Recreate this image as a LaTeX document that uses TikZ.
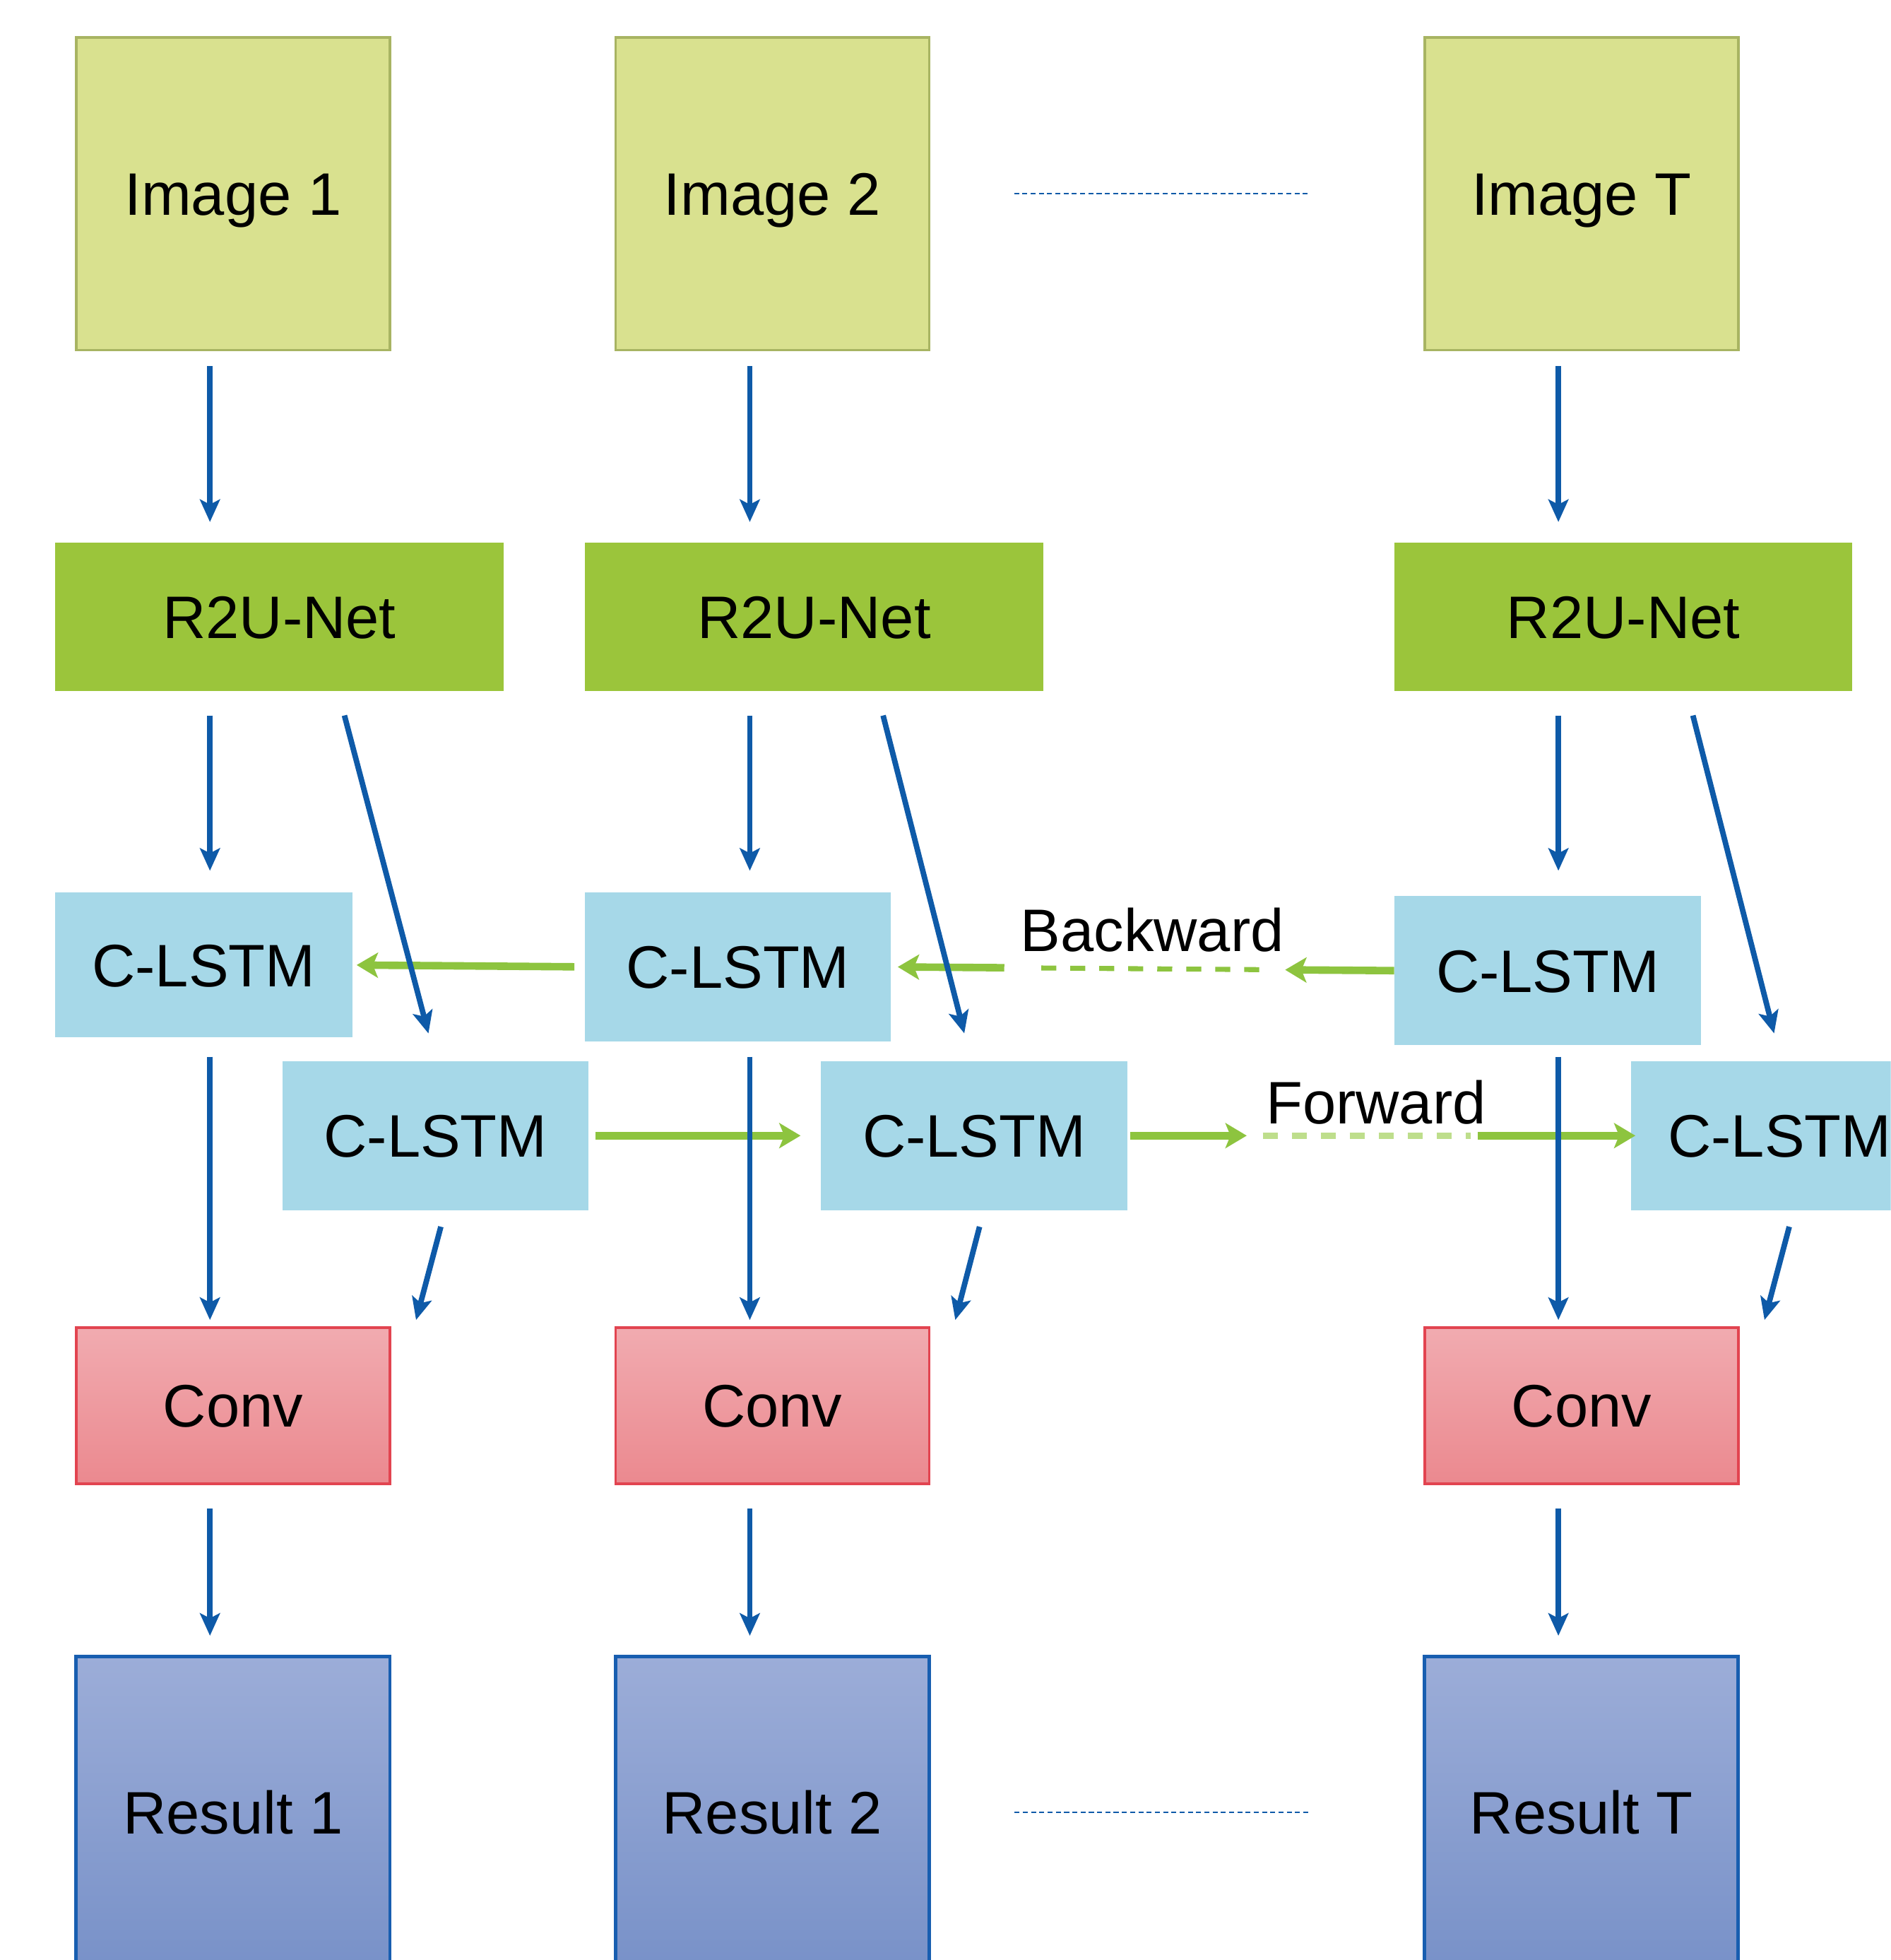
\documentclass[tikz,border=0pt]{standalone}
\usepackage{fontspec}
\setmainfont{Liberation Sans}
\usetikzlibrary{arrows.meta,calc}
\definecolor{imgfill}{RGB}{217,225,143}
\definecolor{imgdraw}{RGB}{168,180,98}
\definecolor{r2ufill}{RGB}{155,197,59}
\definecolor{lstmfill}{RGB}{166,216,232}
\definecolor{convtop}{RGB}{241,171,176}
\definecolor{convbot}{RGB}{235,137,143}
\definecolor{convdraw}{RGB}{226,68,80}
\definecolor{restop}{RGB}{156,173,216}
\definecolor{resbot}{RGB}{120,145,200}
\definecolor{resdraw}{RGB}{24,94,176}
\definecolor{arrblue}{RGB}{14,90,168}
\definecolor{arrgreen}{RGB}{141,196,63}
\definecolor{lightgreen}{RGB}{190,222,140}
\begin{document}
\begin{tikzpicture}[x=0.5pt,y=-0.5pt,
  font=\fontsize{24}{28}\selectfont,
  boxbase/.style={inner sep=0pt, text height=17.2pt, text depth=0pt, anchor=center},
  imgbox/.style={boxbase, draw=imgdraw, line width=1pt, fill=imgfill, minimum width=125.5pt, minimum height=125pt},
  r2ubox/.style={boxbase, fill=r2ufill, minimum width=183pt, minimum height=59.5pt},
  lstmbox/.style={boxbase, fill=lstmfill, minimum width=122.5pt, minimum height=59.5pt},
  convbox/.style={boxbase, draw=convdraw, line width=1pt, top color=convtop, bottom color=convbot, minimum width=125.5pt, minimum height=62.5pt},
  resbox/.style={boxbase, draw=resdraw, line width=1.4pt, top color=restop, bottom color=resbot, minimum width=125.5pt, minimum height=125pt},
  barrow/.style={draw=arrblue, line width=2.2pt, -{Stealth[length=9pt,width=8pt,inset=2pt]}},
  garrow/.style={draw=arrgreen, line width=3pt, -{Stealth[length=8.5pt,width=10pt,inset=2pt]}},
  gdash/.style={draw=arrgreen, line width=2pt, dash pattern=on 6pt off 5.6pt},
  gdashlight/.style={draw=lightgreen, line width=2.4pt, dash pattern=on 6pt off 5.6pt},
  bdots/.style={draw=arrblue, line width=0.6pt, dash pattern=on 2pt off 1.3pt},
  lbl/.style={inner sep=0pt, text height=17.2pt, text depth=0pt}
]
\useasboundingbox (0,0) rectangle (1513,1568);
\clip (0,0) rectangle (1513,1568);
\fill[white] (0,0) rectangle (1513,1568);

% column coordinates
\coordinate (c1) at (168,0);
\coordinate (c2) at (600,0);
\coordinate (cT) at (1247,0);

% images
\node[imgbox] (img1) at (186.5,155) {Image 1};
\node[imgbox] (img2) at (618,155) {Image 2};
\node[imgbox] (imgT) at (1265.5,155) {Image T};

% R2U-Net
\node[r2ubox, minimum width=179.5pt] (r2u1) at (223.5,493.5) {R2U-Net};
\node[r2ubox, minimum width=183.5pt] (r2u2) at (651.5,493.5) {R2U-Net};
\node[r2ubox] (r2uT) at (1299,493.5) {R2U-Net};

% C-LSTM top row
\node[lstmbox, minimum width=119pt, minimum height=58pt] (lA1) at (163,772) {C-LSTM};
\node[lstmbox] (lA2) at (590.5,773.5) {C-LSTM};
\node[lstmbox] (lAT) at (1238.5,776.5) {C-LSTM};

% C-LSTM bottom row
\node[lstmbox] (lB1) at (348.5,908.5) {C-LSTM};
\node[lstmbox] (lB2) at (779.5,908.5) {C-LSTM};
\node[lstmbox, minimum width=119pt] (lBT) at (1424,908.5) {C-LSTM};

% Conv
\node[convbox] (conv1) at (186.5,1124.5) {Conv};
\node[convbox] (conv2) at (618,1124.5) {Conv};
\node[convbox] (convT) at (1265.5,1124.5) {Conv};

% Results
\node[resbox] (res1) at (186.5,1450) {Result 1};
\node[resbox] (res2) at (618,1450) {Result 2};
\node[resbox] (resT) at (1265.5,1450) {Result T};

% dotted continuation lines
\draw[bdots, shorten <=33.5pt, shorten >=45pt] (img2.east) -- (imgT.west);
\draw[bdots, shorten <=33.5pt, shorten >=45pt] (res2.east) -- (resT.west);

% green backward arrows
\draw[garrow, shorten <=4pt, shorten >=1.5pt] (lA2.west) -- (lA1.east);
\draw[garrow, shorten >=157.5pt] (lAT.west) -- (lA2.east);
\draw[gdash, shorten <=54pt, shorten >=58pt] (lAT.west) -- (lA2.east);
\draw[garrow, shorten <=156pt, shorten >=2.5pt] (lAT.west) -- (lA2.east);
\node[lbl] (bwlabel) at (922,744) {Backward};

% green forward arrows
\draw[garrow, shorten <=2.5pt, shorten >=8pt] (lB1.east) -- (lB2.west);
\draw[garrow, shorten <=1pt, shorten >=153.5pt] (lB2.east) -- (lBT.west);
\draw[gdashlight, shorten <=54pt, shorten >=64pt] (lB2.east) -- (lBT.west);
\draw[garrow, shorten <=140pt, shorten >=-2pt] (lB2.east) -- (lBT.west);
\node[lbl] (fwlabel) at (1101,882) {Forward};

% image -> R2U-Net
\draw[barrow, shorten <=6pt, shorten >=8pt] (img1.south -| c1) -- (r2u1.north -| c1);
\draw[barrow, shorten <=6pt, shorten >=8pt] (img2.south -| c2) -- (r2u2.north -| c2);
\draw[barrow, shorten <=6pt, shorten >=8pt] (imgT.south -| cT) -- (r2uT.north -| cT);

% R2U-Net -> top C-LSTM
\draw[barrow, shorten <=9.5pt, shorten >=8.5pt] (r2u1.south -| c1) -- (lA1.north -| c1);
\draw[barrow, shorten <=9.5pt, shorten >=8.5pt] (r2u2.south -| c2) -- (lA2.north -| c2);
\draw[barrow, shorten <=9.5pt, shorten >=10pt] (r2uT.south -| cT) -- (lAT.north -| cT);

% R2U-Net -> bottom C-LSTM (diagonal)
\draw[barrow, shorten <=9.8pt, shorten >=11.3pt] ($(r2u1.south west)+(227,0)$) -- ($(lB1.north west)+(123,0)$);
\draw[barrow, shorten <=9.8pt, shorten >=11.3pt] ($(r2u2.south west)+(234.2,0)$) -- ($(lB2.north west)+(120.6,0)$);
\draw[barrow, shorten <=9.8pt, shorten >=11.3pt] ($(r2uT.south west)+(234.2,0)$) -- ($(lBT.north west)+(120.6,0)$);

% top C-LSTM -> Conv
\draw[barrow, shorten <=7.5pt, shorten >=2.5pt] (lA1.south -| c1) -- (conv1.north -| c1);
\draw[barrow, shorten <=6pt, shorten >=2.5pt] (lA2.south -| c2) -- (conv2.north -| c2);
\draw[barrow, shorten <=4.5pt, shorten >=2.5pt] (lAT.south -| cT) -- (convT.north -| cT);

% bottom C-LSTM -> Conv (diagonal)
\draw[barrow, shorten <=6.7pt, shorten >=2.6pt] ($(lB1.south west)+(130.6,0)$) -- ($(conv1.north east)+(18.6,0)$);
\draw[barrow, shorten <=6.7pt, shorten >=2.6pt] ($(lB2.south west)+(130.6,0)$) -- ($(conv2.north east)+(18.6,0)$);
\draw[barrow, shorten <=6.7pt, shorten >=2.6pt] ($(lBT.south west)+(130.6,0)$) -- ($(convT.north east)+(18.6,0)$);

% Conv -> Result
\draw[barrow, shorten <=9.5pt, shorten >=7.5pt] (conv1.south -| c1) -- (res1.north -| c1);
\draw[barrow, shorten <=9.5pt, shorten >=7.5pt] (conv2.south -| c2) -- (res2.north -| c2);
\draw[barrow, shorten <=9.5pt, shorten >=7.5pt] (convT.south -| cT) -- (resT.north -| cT);
\end{tikzpicture}
\end{document}
